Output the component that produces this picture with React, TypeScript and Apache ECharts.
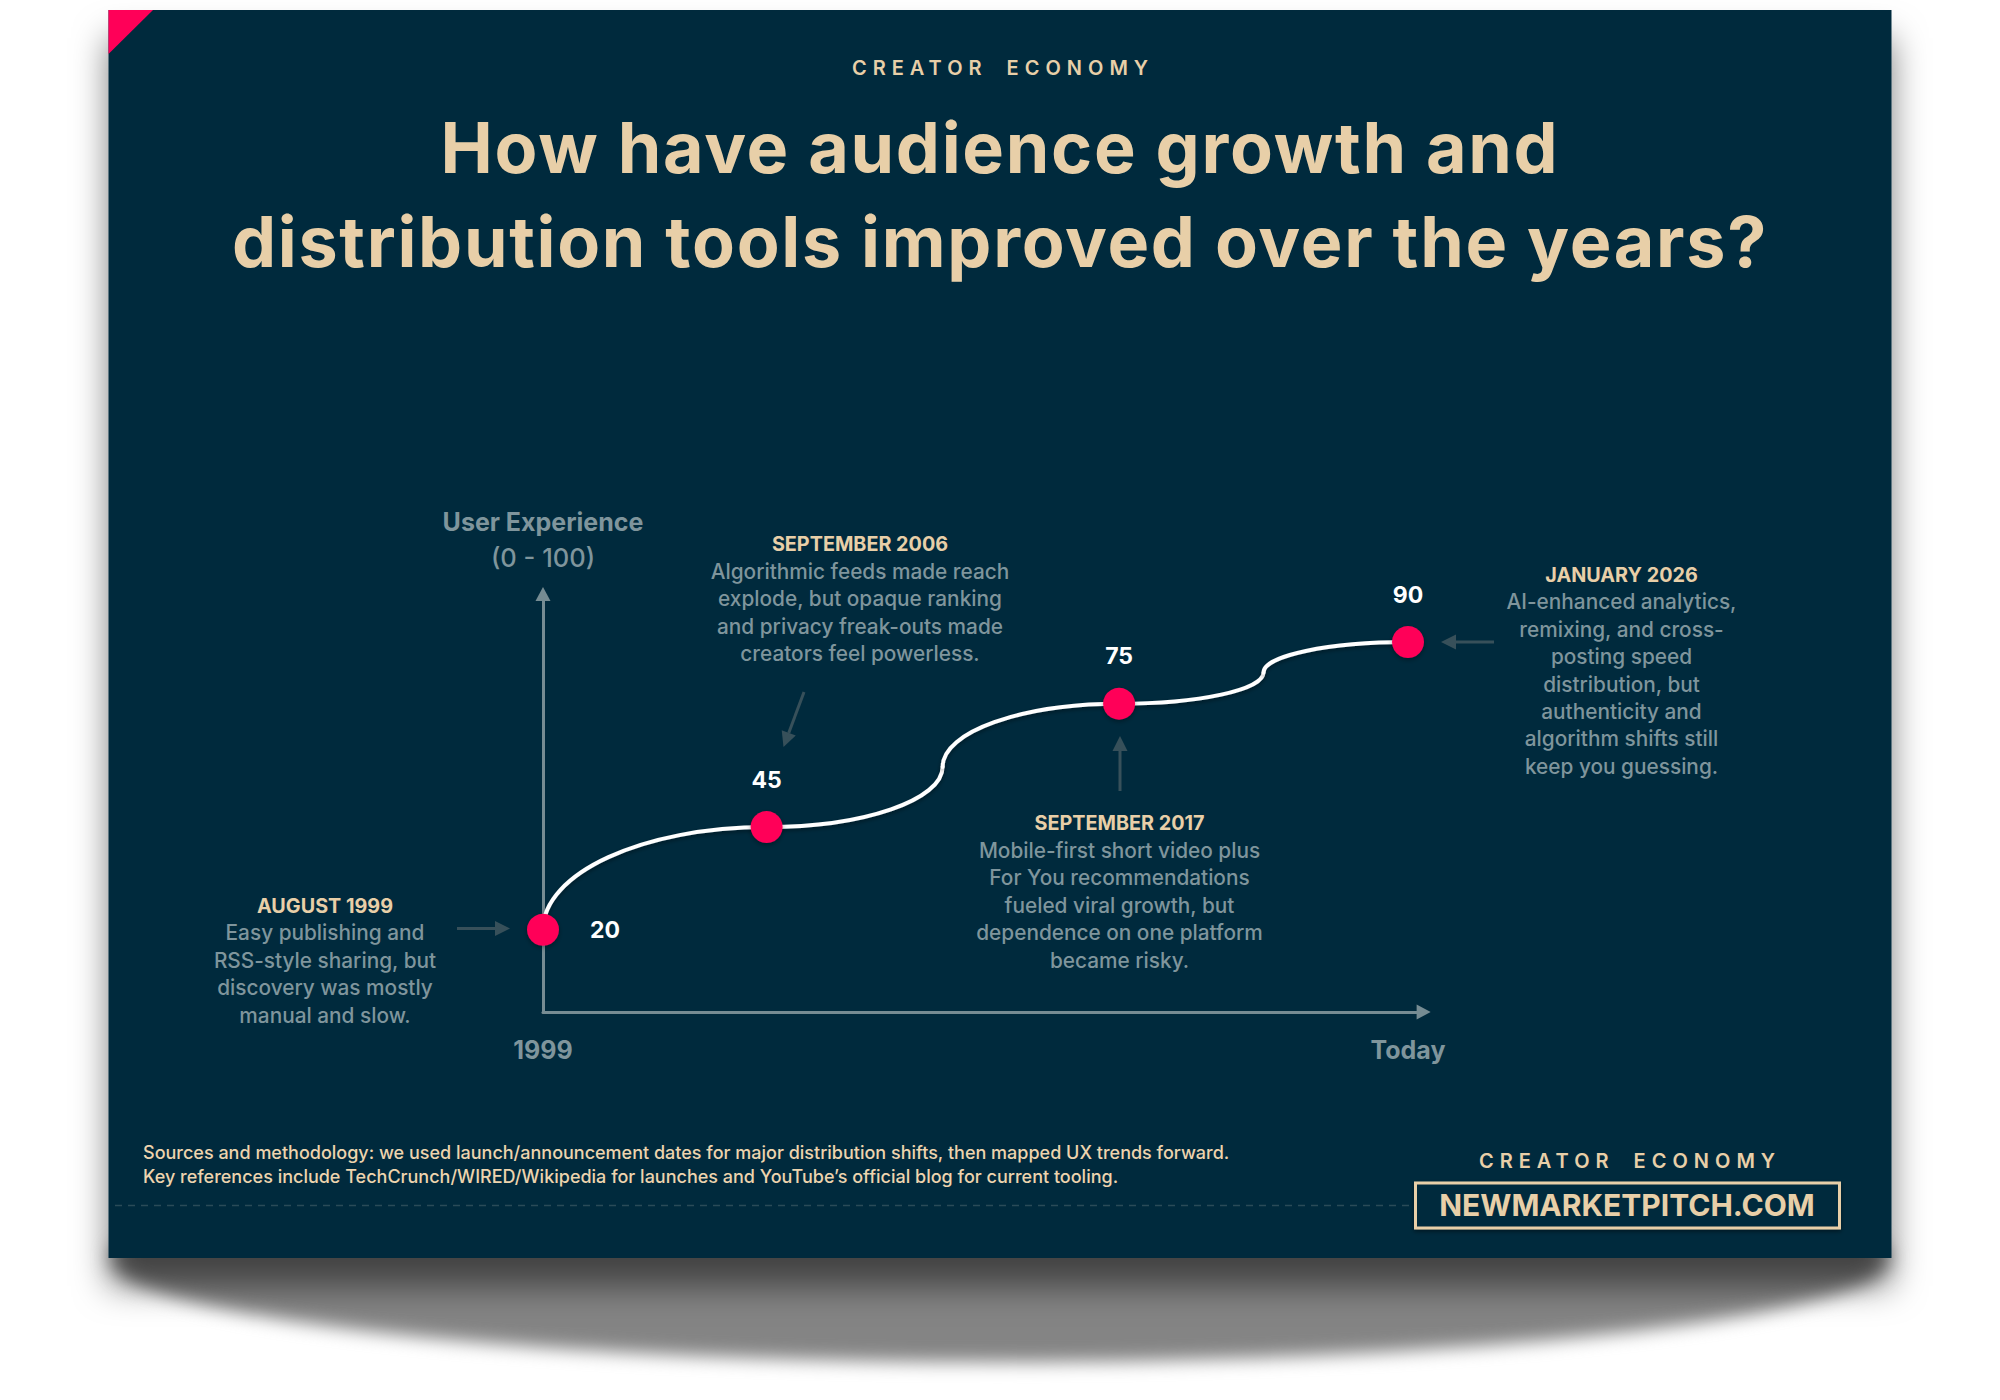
import { useEffect, useRef } from 'react';
import * as echarts from 'echarts';

const kicker = 'CREATOR ECONOMY';
const titleLines = ['How have audience growth and', 'distribution tools improved over the years?'];
const yAxisLines = ['User Experience', '(0 - 100)'];

// milestones, x is position along the timeline (0 = 1999, 100 = today)
const pointX = [0, 25.85, 66.6, 100];
const pointY = [20, 45, 75, 90];

// curve anchors: the line leaves each one alternately upward / sideways
const curveX = [0, 25.85, 46.2, 66.6, 83.3, 100];
const curveY = [20, 45, 59.7, 75, 82.6, 90];

const xTickValues = [0, 100];
const xTickLabels = ['1999', 'Today'];

const noteHeadings = ['AUGUST 1999', 'SEPTEMBER 2006', 'SEPTEMBER 2017', 'JANUARY 2026'];
const noteBodies = [
  ['Easy publishing and', 'RSS-style sharing, but', 'discovery was mostly', 'manual and slow.'],
  ['Algorithmic feeds made reach', 'explode, but opaque ranking', 'and privacy freak-outs made', 'creators feel powerless.'],
  ['Mobile-first short video plus', 'For You recommendations', 'fueled viral growth, but', 'dependence on one platform', 'became risky.'],
  ['AI-enhanced analytics,', 'remixing, and cross-', 'posting speed', 'distribution, but', 'authenticity and', 'algorithm shifts still', 'keep you guessing.'],
];

const footerLines = [
  'Sources and methodology: we used launch/announcement dates for major distribution shifts, then mapped UX trends forward.',
  'Key references include TechCrunch/WIRED/Wikipedia for launches and YouTube\u2019s official blog for current tooling.',
];
const siteName = 'NEWMARKETPITCH.COM';

const FONT = 'Inter, sans-serif';
const NAVY = '#06293c';
const SAND = '#e8cfa8';
const MUTED = '#7f959c';
const AXIS = '#768c93';
const ARROW = '#37505a';
const PINK = '#ff0058';
const CURL = '#848484';

const textShadow = { shadowBlur: 4, shadowColor: 'rgba(0,0,0,0.45)', shadowOffsetY: 2 };

function label(text: string, x: number, y: number, size: number, weight: number, fill: string) {
  return {
    type: 'text',
    x,
    y,
    style: {
      text,
      fill,
      font: `${weight} ${size}px ${FONT}`,
      textAlign: 'center',
      textVerticalAlign: 'middle',
      ...textShadow,
    },
  };
}

function arrow(x1: number, y1: number, x2: number, y2: number) {
  const a = Math.atan2(y2 - y1, x2 - x1);
  const len = 15;
  const half = 7.5;
  const bx = x2 - Math.cos(a) * len;
  const by = y2 - Math.sin(a) * len;
  const nx = -Math.sin(a) * half;
  const ny = Math.cos(a) * half;
  return [
    {
      type: 'line',
      shape: { x1, y1, x2: bx, y2: by },
      style: { stroke: ARROW, lineWidth: 3 },
    },
    {
      type: 'polygon',
      shape: { points: [[x2, y2], [bx + nx, by + ny], [bx - nx, by - ny]] },
      style: { fill: ARROW },
    },
  ];
}

function note(i: number, x: number, y: number) {
  const rows: any[] = [label(noteHeadings[i], x, y, 19.8, 700, SAND)];
  noteBodies[i].forEach((line, k) => {
    rows.push(label(line, x, y + 27.4 * (k + 1), 20.8, 500, MUTED));
  });
  return rows;
}

export default function App() {
  const chartRef = useRef<HTMLDivElement>(null);

  useEffect(() => {
    if (!chartRef.current) return;
    const dom = chartRef.current;
    const chart = echarts.init(dom, undefined, { renderer: 'svg' });

    const option: any = {
      animation: false,
      backgroundColor: '#ffffff',
      grid: { left: 543, top: 601, width: 873.65, height: 411 },
      xAxis: {
        type: 'value',
        min: 0,
        max: 101,
        axisLine: {
          lineStyle: { color: AXIS, width: 3 },
          symbol: ['none', 'triangle'],
          symbolSize: [15, 14],
          symbolOffset: [0, 7],
        },
        axisTick: { show: false },
        splitLine: { show: false },
        axisLabel: {
          customValues: xTickValues,
          margin: 25,
          color: MUTED,
          fontFamily: FONT,
          fontWeight: 700,
          fontSize: 25,
          formatter: (v: number) => xTickLabels[xTickValues.indexOf(v)],
        },
      },
      yAxis: {
        type: 'value',
        min: 0,
        max: 100,
        axisLine: {
          lineStyle: { color: AXIS, width: 3 },
          symbol: ['none', 'triangle'],
          symbolSize: [15, 14],
          symbolOffset: [0, 7],
        },
        axisTick: { show: false },
        splitLine: { show: false },
        axisLabel: { show: false },
      },
      series: [
        {
          type: 'custom',
          coordinateSystem: 'cartesian2d',
          clip: false,
          z: 3,
          encode: { x: [0, 2], y: [1, 3] },
          data: curveX.slice(0, -1).map((x, i) => [x, curveY[i], curveX[i + 1], curveY[i + 1]]),
          renderItem: (params: any, api: any) => {
            const p0 = api.coord([api.value(0), api.value(1)]);
            const p1 = api.coord([api.value(2), api.value(3)]);
            const k = 0.5523;
            const upFirst = params.dataIndex % 2 === 0;
            const dx = p1[0] - p0[0];
            const dy = p1[1] - p0[1];
            return {
              type: 'bezierCurve',
              shape: {
                x1: p0[0],
                y1: p0[1],
                x2: p1[0],
                y2: p1[1],
                cpx1: upFirst ? p0[0] : p0[0] + k * dx,
                cpy1: upFirst ? p0[1] + k * dy : p0[1],
                cpx2: upFirst ? p1[0] - k * dx : p1[0],
                cpy2: upFirst ? p1[1] : p1[1] - k * dy,
              },
              style: {
                stroke: '#ffffff',
                fill: 'none',
                lineWidth: 4,
                lineCap: 'round',
                shadowBlur: 4,
                shadowColor: 'rgba(0,0,0,0.4)',
                shadowOffsetY: 2,
              },
            };
          },
        },
        {
          type: 'scatter',
          z: 4,
          symbolSize: 32,
          clip: false,
          itemStyle: { color: PINK, opacity: 1, shadowBlur: 5, shadowColor: 'rgba(0,0,0,0.35)', shadowOffsetY: 2 },
          data: pointX.map((x, i) => ({
            value: [x, pointY[i]],
            label: i === 0 ? { position: 'right', distance: 31 } : undefined,
          })),
          label: {
            show: true,
            position: 'top',
            distance: 20,
            color: '#ffffff',
            fontFamily: FONT,
            fontWeight: 700,
            fontSize: 23,
            formatter: (p: any) => String(p.value[1]),
          },
          emphasis: { disabled: true },
        },
      ],
      graphic: {
        elements: [
          // paper: curled shadow, soft edge shadow, panel and corner flag
          {
            type: 'ellipse',
            z: -30,
            shape: { cx: 1000, cy: 1258, rx: 890, ry: 104 },
            style: { fill: CURL },
          },
          {
            type: 'rect',
            z: -20,
            shape: { x: 108.5, y: 10, width: 1783, height: 1248 },
            style: { fill: NAVY, shadowBlur: 34, shadowColor: 'rgba(0,0,0,0.5)', shadowOffsetY: 28 },
          },
          {
            type: 'polygon',
            z: -10,
            shape: { points: [[108.5, 10], [153, 10], [108.5, 54]] },
            style: { fill: PINK },
          },

          label(kicker, 1003, 68, 20, 600, SAND),
          label(titleLines[0], 1000, 147, 70, 700, SAND),
          label(titleLines[1], 1000, 241, 70, 700, SAND),

          label(yAxisLines[0], 543, 522, 25, 700, MUTED),
          label(yAxisLines[1], 543, 557, 25.5, 500, MUTED),

          ...note(0, 325, 905.5),
          ...note(1, 860, 544),
          ...note(2, 1119.5, 823),
          ...note(3, 1621.5, 574.5),

          ...arrow(457, 928.5, 510, 928.5),
          ...arrow(804, 692, 783.5, 747),
          ...arrow(1120, 791, 1120, 736),
          ...arrow(1494, 642, 1441, 642),

          ...footerLines.map((line, i) => ({
            type: 'text',
            x: 143,
            y: 1152 + i * 24,
            style: {
              text: line,
              fill: '#edd4ae',
              font: `500 18px ${FONT}`,
              textAlign: 'left',
              textVerticalAlign: 'middle',
            },
          })),
          {
            type: 'line',
            shape: { x1: 115, y1: 1205.5, x2: 1415, y2: 1205.5 },
            style: { stroke: '#2a4b58', lineWidth: 1.5, lineDash: [7, 6] },
          },
          label(kicker, 1630, 1161, 20, 600, SAND),
          {
            type: 'rect',
            shape: { x: 1415.5, y: 1183, width: 424, height: 45 },
            style: { fill: NAVY, stroke: SAND, lineWidth: 3, ...textShadow },
          },
          label(siteName, 1627, 1205, 30, 700, SAND),
        ],
      },
    };

    // zrender has no letter spacing or blur-only option, so both go on the finished svg
    const polish = () => {
      dom.querySelectorAll('text').forEach((t) => {
        const s = t.textContent || '';
        if (s === kicker) {
          t.style.letterSpacing = '6px';
          t.style.wordSpacing = '8px';
        } else if (titleLines.includes(s)) {
          t.style.letterSpacing = '1.7px';
        }
      });
      dom.querySelectorAll('path').forEach((p) => {
        if (p.getAttribute('fill') === CURL) p.style.filter = 'blur(9px)';
      });
    };
    chart.on('finished', polish);
    chart.setOption(option);
    const raf = requestAnimationFrame(polish);

    return () => {
      cancelAnimationFrame(raf);
      chart.dispose();
    };
  }, []);

  return (
    <div
      ref={chartRef}
      style={{ position: 'absolute', left: 0, top: 0, width: 2000, height: 1400 }}
    />
  );
}
